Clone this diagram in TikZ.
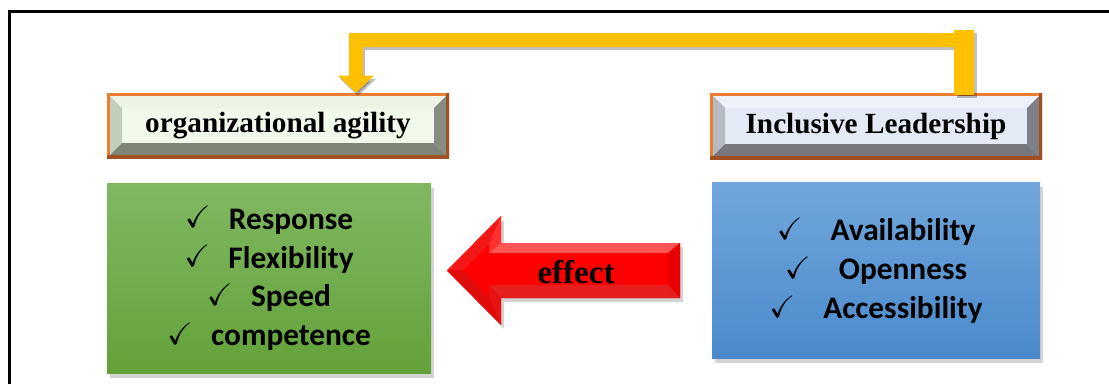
\documentclass[tikz,border=0pt]{standalone}
\usepackage{fontspec}
\usepackage{amssymb}
\setmainfont{Liberation Serif}
\newfontfamily\listfont{Carlito}
\usetikzlibrary{arrows.meta,positioning,calc,shadows}

\definecolor{edgeorange}{RGB}{237,125,49}
\definecolor{edgebrown}{RGB}{160,80,35}
\definecolor{linkyellow}{RGB}{255,192,0}
\definecolor{greentop}{RGB}{128,184,98}
\definecolor{greenbot}{RGB}{98,162,56}
\definecolor{bluetop}{RGB}{113,166,220}
\definecolor{bluebot}{RGB}{74,138,203}
% bevel shades
\definecolor{agface}{RGB}{241,250,234}
\definecolor{agtop}{RGB}{236,245,228}
\definecolor{agleft}{RGB}{195,206,184}
\definecolor{agright}{RGB}{134,142,128}
\definecolor{agbot}{RGB}{126,133,119}
\definecolor{ilface}{RGB}{228,234,245}
\definecolor{iltop}{RGB}{237,241,250}
\definecolor{illeft}{RGB}{182,186,194}
\definecolor{ilright}{RGB}{126,129,136}
\definecolor{ilbot}{RGB}{118,120,125}
\definecolor{redtip}{RGB}{243,24,24}
\definecolor{redback}{RGB}{255,48,48}
\definecolor{redtop}{RGB}{255,85,85}
\definecolor{redend}{RGB}{232,0,0}
\definecolor{redbot}{RGB}{229,30,30}
\definecolor{redlow}{RGB}{232,16,16}
\definecolor{redtail}{RGB}{224,12,12}

\newcommand{\chk}{\raisebox{1pt}{\fontsize{22}{22}\selectfont$\checkmark$}}
\newlength{\bev}\setlength{\bev}{0.375cm}

\tikzset{
  bevelled/.style n args={5}{fill=#1, draw=none, path picture={
      \coordinate (pnw) at (path picture bounding box.north west);
      \coordinate (pne) at (path picture bounding box.north east);
      \coordinate (psw) at (path picture bounding box.south west);
      \coordinate (pse) at (path picture bounding box.south east);
      \fill[#2] (pnw) -- (pne) -- ($(pne)+(-\bev,-\bev)$) -- ($(pnw)+(\bev,-\bev)$) -- cycle;
      \fill[#3] (pnw) -- ($(pnw)+(\bev,-\bev)$) -- ($(psw)+(\bev,\bev)$) -- (psw) -- cycle;
      \fill[#4] (pne) -- (pse) -- ($(pse)+(-\bev,\bev)$) -- ($(pne)+(-\bev,-\bev)$) -- cycle;
      \fill[#5] (psw) -- ($(psw)+(\bev,\bev)$) -- ($(pse)+(-\bev,\bev)$) -- (pse) -- cycle;
      \draw[edgeorange, line width=0.15cm] (psw) -- (pnw) -- (pne);
      \draw[edgebrown, line width=0.15cm] (pne) -- (pse) -- (psw);
    }},
  headbox/.style={inner sep=0pt, font=\bfseries\fontsize{20.8}{25}\selectfont},
  listbox/.style={draw=none, align=center, inner sep=0pt,
    drop shadow={opacity=0.35, shadow xshift=0.08cm, shadow yshift=-0.1cm},
    font=\listfont\bfseries\fontsize{22.3}{27.7}\selectfont},
  link/.style={linkyellow, line width=0.35cm, line join=miter,
    -{Triangle[width=0.875cm,length=0.425cm]}},
}

\begin{document}
\begin{tikzpicture}
  \useasboundingbox (0,0) rectangle (27.725,9.6);
  % frame
  \draw[line width=0.075cm] (0.23,0) -- (0.23,9.3075) -- (27.725,9.3075);

  % headings
  \node[headbox, bevelled={agface}{agtop}{agleft}{agright}{agbot},
    minimum width=8.55cm, minimum height=1.625cm] (agility) at (6.95,6.4625) {organizational agility};
  \node[headbox, bevelled={ilface}{iltop}{illeft}{ilright}{ilbot},
    minimum width=8.3cm, minimum height=1.65cm] (inclusive) at (21.9,6.45) {Inclusive Leadership};

  % lists
  \node[listbox, top color=greentop, bottom color=greenbot, minimum width=8.1cm, minimum height=4.75cm,
    below=0.625cm of agility.south west, anchor=north west] (agilitylist)
    {\chk\hspace{13pt}Response\\ \chk\hspace{13pt}Flexibility\\ \chk\hspace{13pt}Speed\\ \chk\hspace{13pt}competence};
  \node[listbox, top color=bluetop, bottom color=bluebot, minimum width=8.2cm, minimum height=4.4cm,
    below=0.575cm of inclusive.south west, anchor=north west, xshift=0.05cm] (inclusivelist)
    {\chk\hspace{20pt}Availability\\ \chk\hspace{20pt}Openness\\ \chk\hspace{20pt}Accessibility};

  % yellow link
  \draw[link, black, opacity=0.25, transform canvas={xshift=0.05cm,yshift=-0.08cm}]
    ([xshift=2.2cm]inclusive.north) |- (8.9,8.6) -- ([xshift=1.95cm]agility.north);
  \draw[link] ([xshift=2.2cm]inclusive.north) |- (8.9,8.6) -- ([xshift=1.95cm]agility.north);
  \draw[black, opacity=0.25, line width=0.5cm] ([xshift=2.27cm,yshift=-0.13cm]inclusive.north) -- ++(0,1.625);
  \draw[linkyellow, line width=0.5cm] ([xshift=2.2cm,yshift=-0.05cm]inclusive.north) -- ++(0,1.625);

  % effect arrow
  \fill[red, drop shadow={opacity=0.35, shadow xshift=0.08cm, shadow yshift=-0.1cm}]
    (11.175,2.8375) -- (12.525,4.2) -- (12.525,3.525) -- (17.0,3.525) -- (17.0,2.15)
    -- (12.525,2.15) -- (12.525,1.475) -- cycle;
  \fill[redtip] (11.175,2.8375) -- (12.525,4.2) -- (12.225,3.4985) -- (11.564,2.8375) -- cycle;
  \fill[redback] (12.525,4.2) -- (12.525,3.525) -- (12.225,3.275) -- (12.225,3.4985) -- cycle;
  \fill[redtop] (12.525,3.525) -- (17.0,3.525) -- (16.7,3.275) -- (12.225,3.275) -- cycle;
  \fill[redend] (17.0,3.525) -- (17.0,2.15) -- (16.7,2.475) -- (16.7,3.275) -- cycle;
  \fill[redbot] (17.0,2.15) -- (12.525,2.15) -- (12.225,2.475) -- (16.7,2.475) -- cycle;
  \fill[redlow] (12.525,2.15) -- (12.525,1.475) -- (12.225,2.1765) -- (12.225,2.475) -- cycle;
  \fill[redtail] (12.525,1.475) -- (11.175,2.8375) -- (11.564,2.8375) -- (12.225,2.1765) -- cycle;
  \node[font=\bfseries\fontsize{23.5}{25}\selectfont] (effect) at (14.4,2.8) {effect};
\end{tikzpicture}
\end{document}
